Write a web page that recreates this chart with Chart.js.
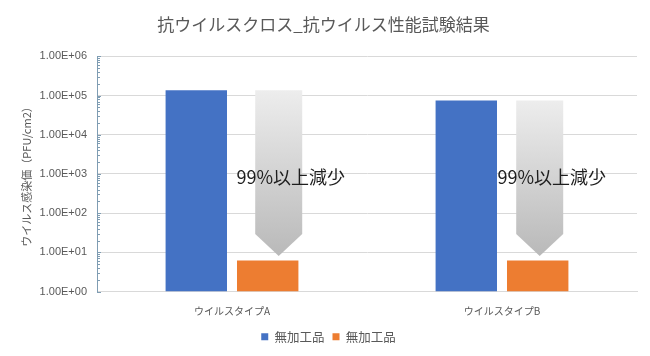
<!DOCTYPE html>
<html><head><meta charset="utf-8">
<script src="https://cdn.jsdelivr.net/npm/chart.js@4"></script>
<style>html,body{margin:0;padding:0;background:#fff}#wrap{width:650px;height:356px;position:relative}</style>
</head><body><div id="wrap"><canvas id="c"></canvas></div>
<script>
const chartTitle = '抗ウイルスクロス_抗ウイルス性能試験結果';
const yAxisTitle = 'ウイルス感染価（PFU/cm2）';
const categories = ['ウイルスタイプA', 'ウイルスタイプB'];
const seriesNames = ['無加工品', '無加工品'];
const untreated = [137000, 75000];
const treated = [6.2, 6.2];
const tickValues = [1, 10, 100, 1000, 10000, 100000, 1000000];
const tickLabels = ['1.00E+00', '1.00E+01', '1.00E+02', '1.00E+03', '1.00E+04', '1.00E+05', '1.00E+06'];
const reductionText = '99%以上減少';
const arrowTipValues = [8.1, 8.1];
const reductionLabelValues = [850, 850];

const JP = '"Noto Sans CJK JP", "Noto Sans", sans-serif';
const NUM = '"Liberation Sans", "Noto Sans CJK JP", sans-serif';
const ARROW = { width: 47, head: 22, shift: [11, 2], textShift: 12 };

const reductionPlugin = {
  id: 'reduction',
  afterLayout(chart) {
    if (chart.legend) { chart.legend.left += 5; chart.legend.right += 5; }
  },
  afterDatasetsDraw(chart) {
    const ctx = chart.ctx, y = chart.scales.y;
    const meta = chart.getDatasetMeta(1);
    categories.forEach((c, i) => {
      const bar = meta.data[i];
      const cx = bar.x + ARROW.shift[i];
      const half = ARROW.width / 2;
      const top = y.getPixelForValue(untreated[i]);
      const tip = y.getPixelForValue(arrowTipValues[i]);
      const neck = tip - ARROW.head;
      const g = ctx.createLinearGradient(0, top, 0, tip);
      g.addColorStop(0, '#ededed');
      g.addColorStop(1, '#b9b9b9');
      ctx.save();
      ctx.fillStyle = g;
      ctx.beginPath();
      ctx.moveTo(cx - half, top);
      ctx.lineTo(cx + half, top);
      ctx.lineTo(cx + half, neck);
      ctx.lineTo(cx, tip);
      ctx.lineTo(cx - half, neck);
      ctx.closePath();
      ctx.fill();
      ctx.fillStyle = '#1e1e1e';
      ctx.font = '18px ' + JP;
      ctx.textAlign = 'center';
      ctx.textBaseline = 'middle';
      ctx.fillText(reductionText, cx + ARROW.textShift, y.getPixelForValue(reductionLabelValues[i]));
      ctx.restore();
    });
  },
  afterDraw(chart) {
    const ctx = chart.ctx, y = chart.scales.y;
    const x0 = chart.chartArea.left;
    ctx.save();
    ctx.strokeStyle = '#7f9db3';
    ctx.lineWidth = 1;
    ctx.beginPath();
    for (let k = 0; k < 6; k++) {
      for (let m = 1; m <= 9; m++) {
        const py = Math.round(y.getPixelForValue(m * Math.pow(10, k))) + 0.5;
        ctx.moveTo(x0, py);
        ctx.lineTo(x0 + (m === 1 ? 4 : 3), py);
      }
    }
    const pt = Math.round(y.getPixelForValue(1e6)) + 0.5;
    ctx.moveTo(x0, pt); ctx.lineTo(x0 + 4, pt);
    ctx.stroke();
    ctx.restore();
  }
};

new Chart(document.getElementById('c'), {
  type: 'bar',
  data: {
    labels: categories,
    datasets: [
      { label: seriesNames[0], data: untreated, backgroundColor: '#4472C4', borderWidth: 0 },
      { label: seriesNames[1], data: treated, backgroundColor: '#ED7D31', borderWidth: 0 }
    ]
  },
  options: {
    responsive: true,
    maintainAspectRatio: false,
    animation: false,
    layout: { padding: { top: 0, left: 10, right: 13, bottom: 3 } },
    datasets: { bar: { categoryPercentage: 0.529, barPercentage: 0.86 } },
    scales: {
      x: {
        grid: { display: false, drawTicks: false },
        border: { display: true, color: '#d9d9d9' },
        afterFit(scale) { scale.height = 31; },
        ticks: { padding: 14, color: '#595959', font: { size: 10, family: JP } }
      },
      y: {
        type: 'logarithmic',
        min: 1,
        max: 1000000,
        afterBuildTicks(scale) { scale.ticks = tickValues.map(v => ({ value: v })); },
        afterFit(scale) { scale.width = 87; },
        grid: { color: '#d9d9d9', drawTicks: false },
        border: { display: true, color: '#7f9db3', width: 1 },
        ticks: {
          padding: 10,
          color: '#595959',
          font: { size: 11, family: NUM },
          callback: (v, i) => tickLabels[i]
        },
        title: {
          display: true,
          text: yAxisTitle,
          color: '#595959',
          font: { size: 11, family: JP },
          padding: { top: 10 }
        }
      }
    },
    plugins: {
      title: {
        display: true,
        text: chartTitle,
        color: '#595959',
        font: { size: 17, family: JP, weight: 'normal' },
        padding: { top: 14, bottom: 22 }
      },
      legend: {
        position: 'bottom',
        labels: {
          boxWidth: 7,
          boxHeight: 7,
          padding: 8,
          color: '#595959',
          font: { size: 12.5, family: JP }
        }
      },
      tooltip: { enabled: false }
    }
  },
  plugins: [reductionPlugin]
});
</script>
</body></html>
